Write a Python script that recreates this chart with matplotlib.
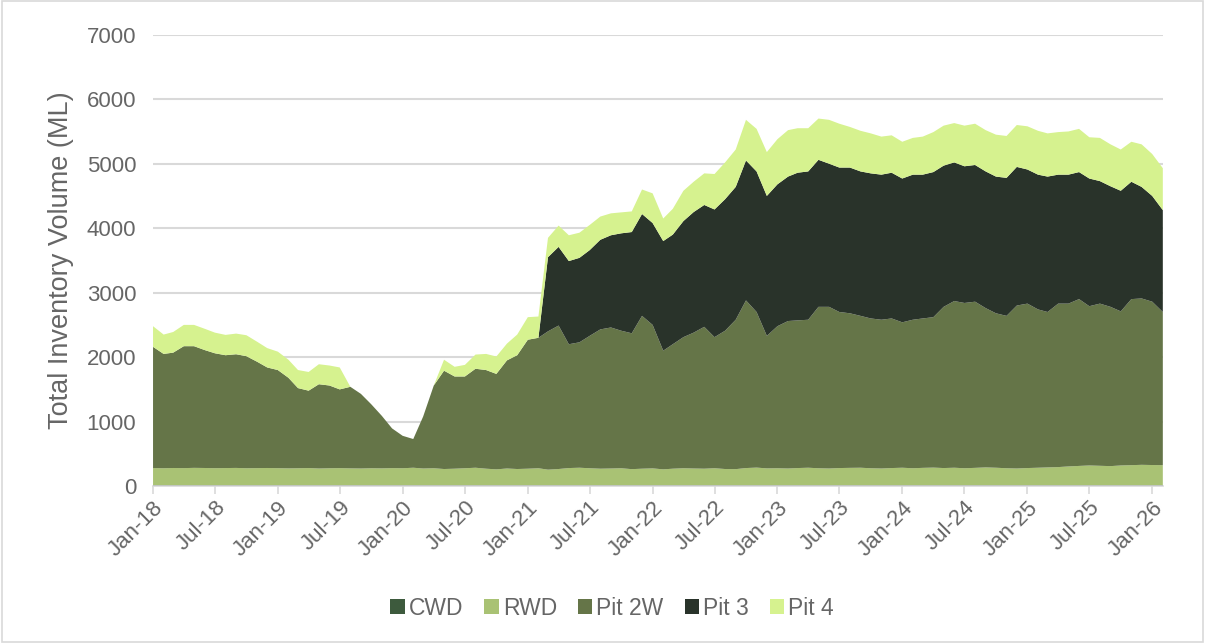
import numpy as np
import pandas as pd
import matplotlib.pyplot as plt
import matplotlib.dates as mdates
from matplotlib.patches import Rectangle

# monthly values, Jan-2018 .. Feb-2026 (ML)
dates = pd.date_range('2018-01-01', periods=98, freq='MS')

cwd = [15] * 98

rwd = [265, 262, 266, 264, 268, 266, 263, 265, 267, 262, 264, 266,
       263, 260, 262, 265, 258, 262, 264, 260, 258, 262, 260, 264,
       262, 270, 258, 262, 250, 255, 262, 270, 255, 245, 258, 250,
       255, 262, 240, 250, 265, 270, 262, 255, 258, 262, 248, 255,
       260, 245, 255, 262, 258, 255, 262, 250, 248, 265, 272, 260,
       262, 258, 265, 270, 262, 258, 265, 268, 270, 262, 258, 265,
       270, 262, 268, 272, 265, 270, 262, 268, 275, 270, 262, 258,
       265, 270, 275, 280, 290, 298, 305, 300, 295, 305, 310, 315, 312, 310]

pit_2w = [1880, 1773, 1789, 1891, 1887, 1829, 1782, 1750, 1763, 1738, 1651, 1559,
          1522, 1405, 1243, 1200, 1307, 1283, 1221, 1265, 1157, 993, 815, 616,
          503, 445, 807, 1283, 1525, 1430, 1423, 1535, 1530, 1480, 1677, 1765,
          2000, 2023, 2145, 2225, 1920, 1945, 2053, 2160, 2187, 2133, 2107, 2370,
          2225, 1840, 1930, 2033, 2107, 2200, 2033, 2145, 2317, 2600, 2413, 2055,
          2203, 2287, 2290, 2295, 2503, 2507, 2420, 2397, 2355, 2323, 2307, 2320,
          2255, 2303, 2317, 2333, 2500, 2585, 2563, 2577, 2470, 2395, 2363, 2527,
          2550, 2455, 2410, 2535, 2525, 2587, 2470, 2515, 2470, 2390, 2575, 2580, 2533, 2375]

pit_3 = [0] * 38 + [
    1150, 1220, 1290, 1310, 1330, 1390, 1430, 1510, 1570, 1580,
    1580, 1700, 1700, 1800, 1870, 1890, 1980, 2040, 2060, 2170, 2180, 2170,
    2200, 2240, 2290, 2300, 2280, 2220, 2240, 2260, 2240, 2250, 2250, 2260,
    2230, 2250, 2230, 2250, 2190, 2150, 2120, 2120, 2120, 2120, 2140, 2150,
    2080, 2090, 2100, 2000, 2000, 1970, 1980, 1900, 1870, 1870, 1820, 1730, 1640, 1580]

pit_4 = [320, 300, 320, 330, 330, 330, 320, 315, 320, 325, 310, 300,
         285, 280, 280, 290, 310, 310, 340, 0, 0, 0, 0, 0,
         0, 0, 0, 0, 170, 150, 180, 220, 250, 270, 260, 320,
         350, 330, 300, 330, 400, 390, 390, 360, 340, 325, 320, 380,
         460, 350, 400, 470, 470, 490, 550, 570, 580, 630, 660, 680,
         700, 720, 690, 670, 640, 680, 680, 630, 630, 620, 590, 580,
         570, 570, 590, 620, 620, 610, 630, 640, 640, 650, 650, 650,
         670, 680, 670, 660, 670, 670, 640, 670, 650, 640, 620, 660, 650, 650]

names = ['CWD', 'RWD', 'Pit 2W', 'Pit 3', 'Pit 4']
colors = ['#3d5a3d', '#a9c274', '#657548', '#29332a', '#d6f28f']
grey = '#666666'

plt.rcParams['font.family'] = ['Liberation Sans', 'DejaVu Sans']

fig = plt.figure(figsize=(12.05, 6.43), dpi=100)
ax = fig.add_axes([0.127, 0.244, 0.838, 0.702])

ax.stackplot(dates, cwd, rwd, pit_2w, pit_3, pit_4,
             colors=colors, labels=names, linewidth=0)

ax.set_ylim(0, 7000)
ax.set_yticks(np.arange(0, 7001, 1000))
ax.set_xlim(pd.Timestamp('2018-01-01'), dates[-1])
ax.xaxis.set_major_locator(mdates.MonthLocator(bymonth=[1, 7]))
ax.xaxis.set_major_formatter(mdates.DateFormatter('%b-%y'))

ax.grid(axis='y', color='#d9d9d9', linewidth=1.5)
ax.set_axisbelow(True)
for s in ['top', 'right', 'left']:
    ax.spines[s].set_visible(False)
ax.spines['bottom'].set_color('#d9d9d9')
ax.spines['bottom'].set_linewidth(1.2)

ax.tick_params(axis='y', length=0, labelsize=16, labelcolor=grey, pad=12)
ax.tick_params(axis='x', length=6, width=1.2, color='#d9d9d9',
               labelsize=16, labelcolor=grey, pad=2)
for lab in ax.get_xticklabels():
    lab.set_rotation(45)
    lab.set_ha('right')
    lab.set_rotation_mode('anchor')

ax.set_ylabel('Total Inventory Volume (ML)', fontsize=19.5, color=grey, labelpad=9)

fig.legend(loc='center', bbox_to_anchor=(0.508, 0.054), ncol=5, frameon=False,
           fontsize=16.5, labelcolor=grey, handlelength=0.62, handleheight=0.62,
           handletextpad=0.18, columnspacing=0.92)

fig.patches.append(Rectangle((0.002, 0.002), 0.996, 0.996, transform=fig.transFigure,
                             fill=False, edgecolor='#d9d9d9', linewidth=1.2))

fig.savefig('out.png', dpi=100)
